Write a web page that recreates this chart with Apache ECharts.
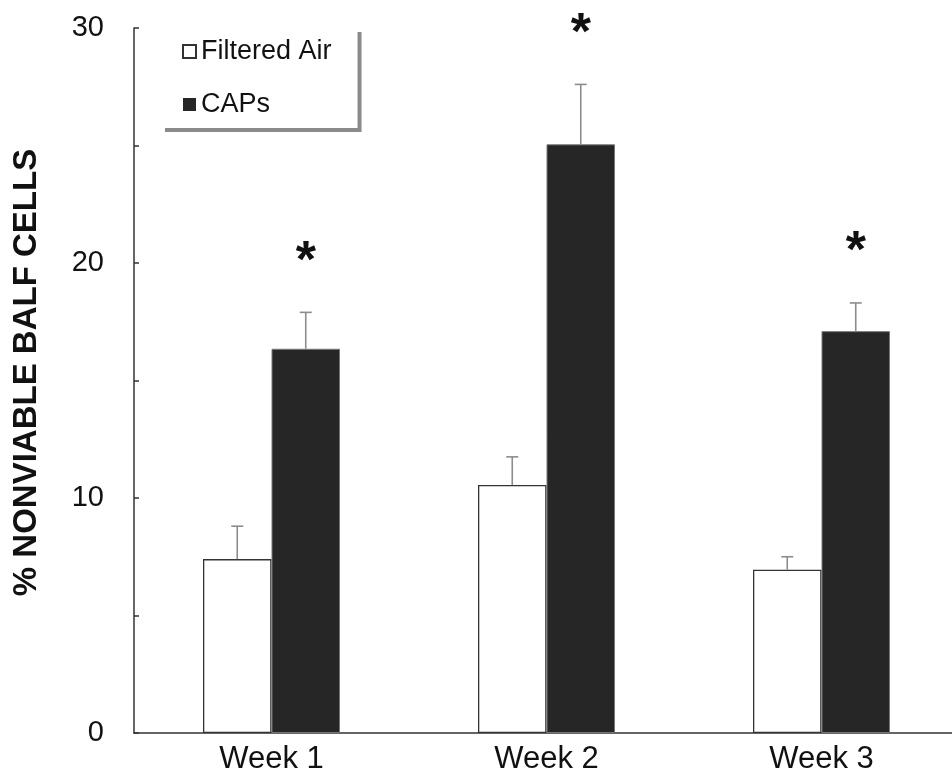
<!DOCTYPE html>
<html>
<head>
<meta charset="utf-8">
<script src="https://cdn.jsdelivr.net/npm/echarts@6/dist/echarts.min.js"></script>
<style>html,body{margin:0;padding:0;background:#fff;}#chart{width:952px;height:783px;}</style>
</head>
<body>
<div id="chart"></div>
<script>
// ---- data ----
const categories = ['Week 1', 'Week 2', 'Week 3'];
const filteredAir = [7.4, 10.55, 6.95];
const filteredAirErrTop = [8.8, 11.75, 7.5];
const caps = [16.35, 25.05, 17.1];
const capsErrTop = [17.9, 27.6, 18.3];
const capsSignificant = [true, true, true];
const yTicks = [0, 10, 20, 30];

const FONT = '"Liberation Sans", Arial, Helvetica, sans-serif';
const BAR_W = 68.5;

function errRender(offset, sig) {
  return function (params, api) {
    const i = api.value(0);
    const base = api.coord([i, api.value(1)]);
    const top = api.coord([i, api.value(2)]);
    const x = base[0] + offset;
    const st = { stroke: '#8c8c8c', lineWidth: 1.6 };
    const children = [
      { type: 'line', shape: { x1: x, y1: base[1], x2: x, y2: top[1] }, style: st },
      { type: 'line', shape: { x1: x - 6, y1: top[1], x2: x + 6, y2: top[1] }, style: st }
    ];
    if (sig && sig[i]) {
      children.push({
        type: 'text', x: x, y: top[1] - 50,
        style: { text: '*', font: 'bold 52px ' + FONT, align: 'center', verticalAlign: 'middle', fill: '#111' }
      });
    }
    return { type: 'group', children: children };
  };
}

const chart = echarts.init(document.getElementById('chart'), null, { renderer: 'canvas' });
chart.setOption({
  backgroundColor: '#fff',
  animation: false,
  grid: { left: 134, right: -7, top: 28, bottom: 50, containLabel: false, outerBoundsMode: 'none' },
  legend: {
    data: ['Filtered Air', { name: 'CAPs', itemStyle: { borderColor: '#222', borderWidth: 0 } }],
    orient: 'vertical',
    left: 161, top: 28,
    padding: [10, 26, 10, 21],
    itemGap: 26,
    itemWidth: 13, itemHeight: 13,
    icon: 'rect',
    backgroundColor: '#fff',
    shadowColor: '#8a8a8a', shadowBlur: 0, shadowOffsetX: 4, shadowOffsetY: 4,
    textStyle: { fontFamily: FONT, fontSize: 27, color: '#111' }
  },
  xAxis: {
    type: 'category',
    data: categories,
    axisLine: { lineStyle: { color: '#333', width: 1.5 } },
    axisTick: { show: false },
    axisLabel: { fontFamily: FONT, fontSize: 31, color: '#111', margin: 11 }
  },
  yAxis: {
    type: 'value',
    min: 0, max: 30, interval: 5,
    name: '% NONVIABLE BALF CELLS',
    nameLocation: 'middle',
    nameGap: 91,
    nameTextStyle: { fontFamily: FONT, fontSize: 33, fontWeight: 'bold', color: '#111', padding: [0, 0, 0, 16] },
    axisLine: { show: true, lineStyle: { color: '#333', width: 1.5 } },
    axisTick: { show: true, inside: true, length: 5, lineStyle: { color: '#333', width: 1.5 } },
    splitLine: { show: false },
    axisLabel: {
      fontFamily: FONT, fontSize: 29, color: '#111', margin: 30,
      formatter: function (v) { return yTicks.indexOf(v) >= 0 ? String(v) : ''; }
    }
  },
  series: [
    {
      name: 'Filtered Air', type: 'bar', data: filteredAir,
      barWidth: BAR_W, barGap: '0%',
      itemStyle: { color: '#ffffff', borderColor: '#333', borderWidth: 1.3 }
    },
    {
      name: 'CAPs', type: 'bar', data: caps,
      barWidth: BAR_W, barGap: '0%',
      itemStyle: { color: '#262626', borderColor: '#777', borderWidth: 1 }
    },
    {
      type: 'custom', name: 'errFA', silent: true,
      data: filteredAir.map((v, i) => [i, v, filteredAirErrTop[i]]),
      encode: { x: 0, y: [1, 2] },
      renderItem: errRender(-BAR_W / 2, null), z: 3
    },
    {
      type: 'custom', name: 'errCAPs', silent: true,
      data: caps.map((v, i) => [i, v, capsErrTop[i]]),
      encode: { x: 0, y: [1, 2] },
      renderItem: errRender(BAR_W / 2, capsSignificant), z: 3
    }
  ]
});
</script>
</body>
</html>
